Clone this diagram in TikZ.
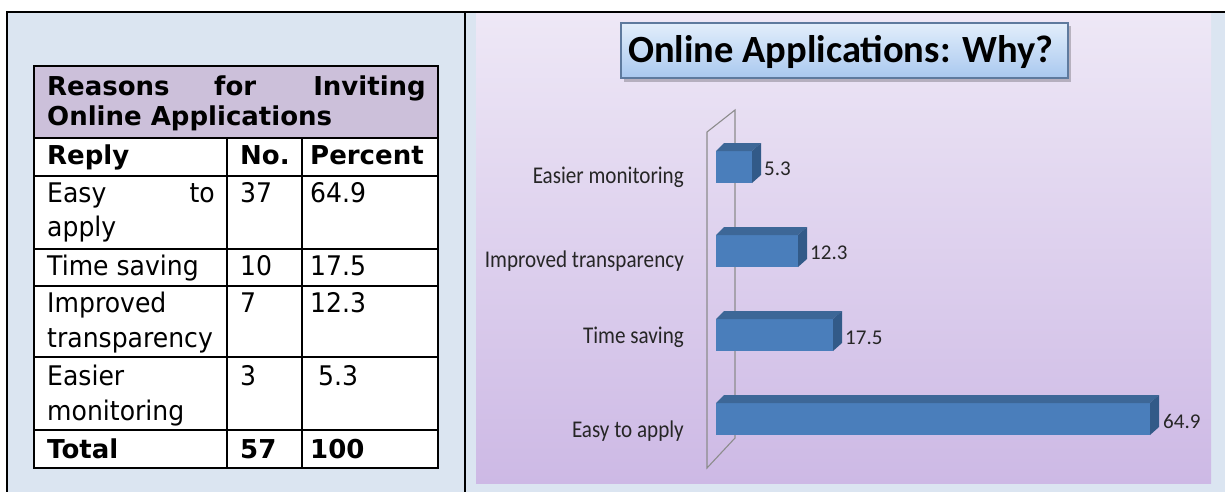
\documentclass[tikz,border=0pt]{standalone}
\usepackage{fontspec}
\setmainfont{DejaVu Sans}
\newfontfamily\tabfont[FakeStretch=0.93]{DejaVu Sans}
\newfontfamily\calfont{Carlito}
\newfontfamily\callbl[FakeStretch=0.88]{Carlito}
\definecolor{lblue}{HTML}{DBE5F1}
\definecolor{lav}{HTML}{CCC0DA}
\definecolor{chtop}{HTML}{EEE8F6}
\definecolor{chbot}{HTML}{CDB9E5}
\definecolor{barfront}{HTML}{4A7EBB}
\definecolor{bartop}{HTML}{3D6797}
\definecolor{barside}{HTML}{325A88}
\definecolor{ttltop}{HTML}{E2EEFB}
\definecolor{ttlbot}{HTML}{A9C8EF}
\definecolor{ttlborder}{HTML}{5E7A9E}
\definecolor{lbl}{HTML}{262626}
\begin{document}
\begin{tikzpicture}[x=1pt,y=-1pt,
  tcell/.style={anchor=base west,inner sep=0,font=\tabfont\fontsize{27}{32}\selectfont},
  tbold/.style={anchor=base west,inner sep=0,font=\fontsize{26}{30}\selectfont\bfseries},
  catlbl/.style={anchor=base east,inner sep=0,text=lbl,font=\callbl\fontsize{24}{28}\selectfont},
  vallbl/.style={anchor=base west,inner sep=0,text=lbl,font=\calfont\fontsize{21}{24}\selectfont},
  grid/.style={line width=2pt,black},
  wall/.style={draw=gray!90,line width=1.1pt}]
\useasboundingbox (0,0) rectangle (1225,492);
% page cells
\fill[lblue] (7,12) rectangle (1225,492);
% ---------- table ----------
\fill[lav] (34,66) rectangle (438,138);
\fill[white] (34,138) rectangle (438,468);
\draw[grid] (34,66) rectangle (438,468);
\foreach \yy in {138,176,249,286,357,430} \draw[grid] (34,\yy) -- (438,\yy);
\foreach \xx in {227,302} \draw[grid] (\xx,138) -- (\xx,468);
\node[tbold] (h1a) at (47,96) {Reasons};
\node[tbold] (h1b) at (214,96) {for};
\node[tbold,anchor=base east] (h1c) at (426,96) {Inviting};
\node[tbold] (h2) at (47,125) {Online Applications};
\node[tbold] (c1) at (47,164) {Reply};
\node[tbold] (c2) at (240,164) {No.};
\node[tbold] (c3) at (310,164) {Percent};
\node[tcell] (r1a) at (47,202) {Easy};
\node[tcell,anchor=base east] (r1b) at (215,202) {to};
\node[tcell] (r1c) at (47,236) {apply};
\node[tcell] (r1n) at (240,202) {37};
\node[tcell] (r1p) at (310,202) {64.9};
\node[tcell] (r2a) at (47,275) {Time saving};
\node[tcell] (r2n) at (240,275) {10};
\node[tcell] (r2p) at (310,275) {17.5};
\node[tcell] (r3a) at (47,312) {Improved};
\node[tcell] (r3b) at (47,347) {transparency};
\node[tcell] (r3n) at (240,312) {7};
\node[tcell] (r3p) at (310,312) {12.3};
\node[tcell] (r4a) at (47,385) {Easier};
\node[tcell] (r4b) at (47,420) {monitoring};
\node[tcell] (r4n) at (240,385) {3};
\node[tcell] (r4p) at (318,385) {5.3};
\node[tbold] (t1) at (47,458) {Total};
\node[tbold] (t2) at (240,458) {57};
\node[tbold] (t3) at (310,458) {100};
% ---------- chart ----------
\shade[top color=chtop,bottom color=chbot] (476,13) rectangle (1211,483);
% title box
\fill[black,opacity=0.22] (624,26) rectangle (1071,82);
\shade[top color=ttltop,bottom color=ttlbot,draw=ttlborder,line width=1.2pt] (621,23) rectangle (1068,78);
\node[anchor=base west,inner sep=0,font=\calfont\bfseries\fontsize{38.5}{44}\selectfont] (ttl) at (628,63) {Online Applications: Why?};
% back wall
\draw[wall] (707,468) -- (707,132) -- (735,110) -- (735,438) -- cycle;
% bars: top y, right x
\foreach \ty/\rx in {151/752,235/798,319/833,403/1150}{
  \fill[barfront] (716,\ty) rectangle (\rx,\ty+32);
  \fill[bartop] (716,\ty) -- (724,\ty-8) -- (\rx+9,\ty-8) -- (\rx,\ty) -- cycle;
  \fill[barside] (\rx,\ty) -- (\rx+9,\ty-8) -- (\rx+9,\ty+24) -- (\rx,\ty+32) -- cycle;
}
\node[catlbl] (l1) at (684,183) {Easier monitoring};
\node[catlbl] (l2) at (684,267) {Improved transparency};
\node[catlbl] (l3) at (684,343) {Time saving};
\node[catlbl] (l4) at (684,437) {Easy to apply};
\node[vallbl] (v1) at (764,175) {5.3};
\node[vallbl] (v2) at (810,259) {12.3};
\node[vallbl] (v3) at (845,344) {17.5};
\node[vallbl] (v4) at (1163,428) {64.9};
% frame lines
\draw[grid] (7,492) -- (7,12) -- (1225,12);
\draw[grid] (465,12) -- (465,492);
\end{tikzpicture}
\end{document}
